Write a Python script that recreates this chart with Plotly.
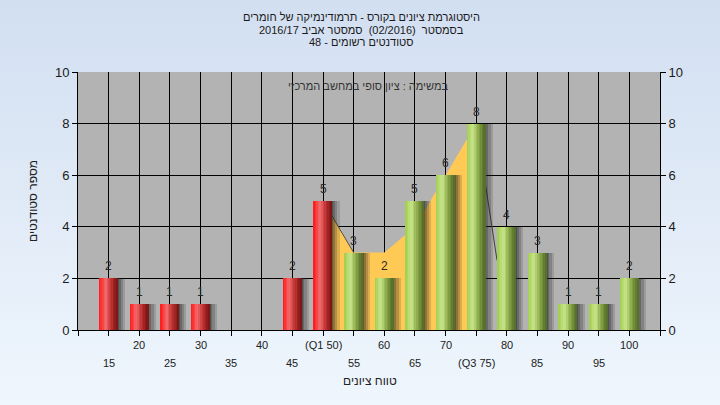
import base64
import plotly.graph_objects as go

# ---------------- data ----------------
grades = [15, 20, 25, 30, 35, 40, 45, 50, 55, 60, 65, 70, 75, 80, 85, 90, 95, 100]
counts = [2, 1, 1, 1, 0, 0, 2, 5, 3, 2, 5, 6, 8, 4, 3, 1, 1, 2]
pass_mark = 55  # grades below this are red

row1_vals = [20, 30, 40, 50, 60, 70, 80, 90, 100]
row1_text = ["20", "30", "40", "(Q1 50)", "60", "70", "80", "90", "100"]
row2_vals = [15, 25, 35, 45, 55, 65, 75, 85, 95]
row2_text = ["15", "25", "35", "45", "55", "65", "(Q3 75)", "85", "95"]

# inter-quartile decorative area (Q1..Q3)
iqr_x = [50, 55, 60, 65, 70, 75]
iqr_y = [5, 3, 3, 4, 6, 8]
edge_x = [50, 55]
edge_y = [5, 3]
drop_x = [75, 78.4]
drop_y = [8, 2.7]

title_lines = [
    "היסטוגרמת ציונים בקורס - תרמודינמיקה של חומרים",
    "בסמסטר  (02/2016)  סמסטר אביב 2016/17",
    "סטודנטים רשומים - 48",
]
task_text = "במשימה : ציון סופי במחשב המרכזי"
x_title = "טווח ציונים"
y_title = "מספר סטודנטים"

FONT = "Liberation Sans, DejaVu Sans, Arial, sans-serif"

# ---------------- styling helpers ----------------
def lerp(c1, c2, t):
    return tuple(int(round(a + (b - a) * t)) for a, b in zip(c1, c2))

def gradient(stops, t):
    for (p1, c1), (p2, c2) in zip(stops, stops[1:]):
        if p1 <= t <= p2:
            return lerp(c1, c2, (t - p1) / (p2 - p1) if p2 > p1 else 0)
    return stops[-1][1]

red_stops = [(0.0, (255, 24, 24)), (0.18, (252, 60, 60)), (0.35, (242, 112, 112)),
             (0.55, (212, 66, 66)), (0.8, (160, 34, 34)), (1.0, (118, 20, 20))]
green_stops = [(0.0, (160, 204, 78)), (0.18, (182, 218, 110)), (0.35, (200, 228, 140)),
               (0.55, (156, 186, 88)), (0.8, (112, 140, 56)), (1.0, (80, 104, 38))]

def rgb(c):
    return "rgb(%d,%d,%d)" % c

W = 3.0      # bar width in data units
N = 12       # gradient strips

fig = go.Figure()

# background gradient image (svg data uri)
svg = ('<svg xmlns="http://www.w3.org/2000/svg" width="720" height="405">'
       '<defs><linearGradient id="g" x1="0" y1="0" x2="0" y2="1">'
       '<stop offset="0" stop-color="#d2dff1"/><stop offset="1" stop-color="#eff6fd"/>'
       '</linearGradient></defs><rect width="720" height="405" fill="url(#g)"/></svg>')
svg_uri = "data:image/svg+xml;base64," + base64.b64encode(svg.encode()).decode()

L, R, T, B = 78, 60, 72, 75
PW, PH = 720 - L - R, 405 - T - B

fig.add_layout_image(dict(source=svg_uri, xref="paper", yref="paper",
                          x=-L / PW, y=1 + T / PH, sizex=720 / PW, sizey=405 / PH,
                          xanchor="left", yanchor="top", sizing="stretch", layer="below"))
fig.add_shape(type="rect", xref="paper", yref="paper", x0=0, x1=1, y0=0, y1=1,
              fillcolor="#b3b3b3", line_width=0, layer="below")

# IQR yellow area (main subplot, drawn beneath the bars)
fig.add_trace(go.Scatter(x=iqr_x, y=iqr_y, mode="lines", fill="tozeroy",
                         line=dict(width=0, color="#ffc955"), fillcolor="#ffc955",
                         hoverinfo="skip", showlegend=False))
fig.add_trace(go.Scatter(x=edge_x, y=edge_y, mode="lines",
                         line=dict(width=1, color="#505050"), hoverinfo="skip", showlegend=False))
fig.add_trace(go.Scatter(x=drop_x, y=drop_y, mode="lines",
                         line=dict(width=1, color="#404040"), hoverinfo="skip", showlegend=False))

# shadows (overlay subplot)
for k, (w, a) in enumerate([(1.3, 0.16), (0.95, 0.2), (0.55, 0.26), (0.25, 0.3)]):
    fig.add_trace(go.Bar(x=grades, y=counts, width=w, offset=W / 2 - 0.1, yaxis="y2",
                         marker=dict(color="rgba(30,30,30,%.2f)" % a, line_width=0),
                         hoverinfo="skip", showlegend=False))

# gradient bar strips
for i in range(N):
    t = (i + 0.5) / N
    cols = [rgb(gradient(red_stops if g < pass_mark else green_stops, t)) for g in grades]
    fig.add_trace(go.Bar(x=grades, y=counts, width=W / N * 1.08, offset=-W / 2 + i * W / N,
                         yaxis="y2", marker=dict(color=cols, line_width=0),
                         hoverinfo="skip", showlegend=False))

annotations = []
# value labels above bars
for g, c in zip(grades, counts):
    if c > 0:
        annotations.append(dict(x=g, y=c, xref="x", yref="y2", text=str(c), showarrow=False,
                                yanchor="middle", yshift=12,
                                font=dict(family=FONT, size=12, color="#2a2a2a")))
for v, s in zip(row1_vals, row1_text):
    annotations.append(dict(x=v, y=0, xref="x", yref="paper", text=s, showarrow=False,
                            yshift=-15, yanchor="middle",
                            font=dict(family=FONT, size=11, color="#222")))
for v, s in zip(row2_vals, row2_text):
    annotations.append(dict(x=v, y=0, xref="x", yref="paper", text=s, showarrow=False,
                            yshift=-33, yanchor="middle",
                            font=dict(family=FONT, size=11, color="#222")))
annotations.append(dict(x=0.5, y=1, xref="paper", yref="paper", xanchor="center",
                        yanchor="middle", yshift=-14, xshift=-1, text=task_text, showarrow=False,
                        font=dict(family=FONT, size=11, color="#333")))
annotations.append(dict(x=0.5, y=0, xref="paper", yref="paper", xanchor="center",
                        yanchor="middle", yshift=-51, xshift=1, text=x_title, showarrow=False,
                        font=dict(family=FONT, size=12, color="#222")))
annotations.append(dict(x=0, y=0.5, xref="paper", yref="paper", xanchor="center",
                        yanchor="middle", xshift=-45, text=y_title, showarrow=False,
                        textangle=-90, font=dict(family=FONT, size=12, color="#222")))
for k, line in enumerate(title_lines):
    annotations.append(dict(x=0.5, y=1, xref="paper", yref="paper", xanchor="center",
                            yanchor="middle", yshift=T - 17 - 12.5 * k, xshift=-8, text=line,
                            showarrow=False, borderpad=0,
                            font=dict(family=FONT, size=11, color="#1a1a1a")))

tick_all = [10] + grades + [105]

fig.update_layout(
    width=720, height=405,
    margin=dict(l=L, r=R, t=T, b=B),
    paper_bgcolor="rgba(0,0,0,0)",
    plot_bgcolor="rgba(0,0,0,0)",
    barmode="overlay",
    bargap=0,
    showlegend=False,
    annotations=annotations,
    xaxis=dict(range=[10, 105], tickvals=tick_all, showticklabels=False,
               showgrid=True, gridcolor="#000", gridwidth=1,
               ticks="outside", ticklen=5, tickcolor="#000",
               showline=True, linecolor="#000", linewidth=1, zeroline=False,
               fixedrange=True),
    yaxis=dict(range=[0, 10], tickvals=[0, 2, 4, 6, 8, 10], showgrid=True,
               gridcolor="#000", gridwidth=1, ticks="outside", ticklen=5,
               tickcolor="#000", showline=True, linecolor="#000", zeroline=False,
               tickfont=dict(family=FONT, size=13, color="#1a1a1a")),
    yaxis2=dict(range=[0, 10], tickvals=[0, 2, 4, 6, 8, 10], overlaying="y",
                side="right", showgrid=False, ticks="outside", ticklen=5,
                tickcolor="#000", showline=True, linecolor="#000", zeroline=False,
                tickfont=dict(family=FONT, size=13, color="#1a1a1a")),
)

fig.write_html("out.html", config={"displayModeBar": False},
               post_script="document.body.style.margin='0px';")
